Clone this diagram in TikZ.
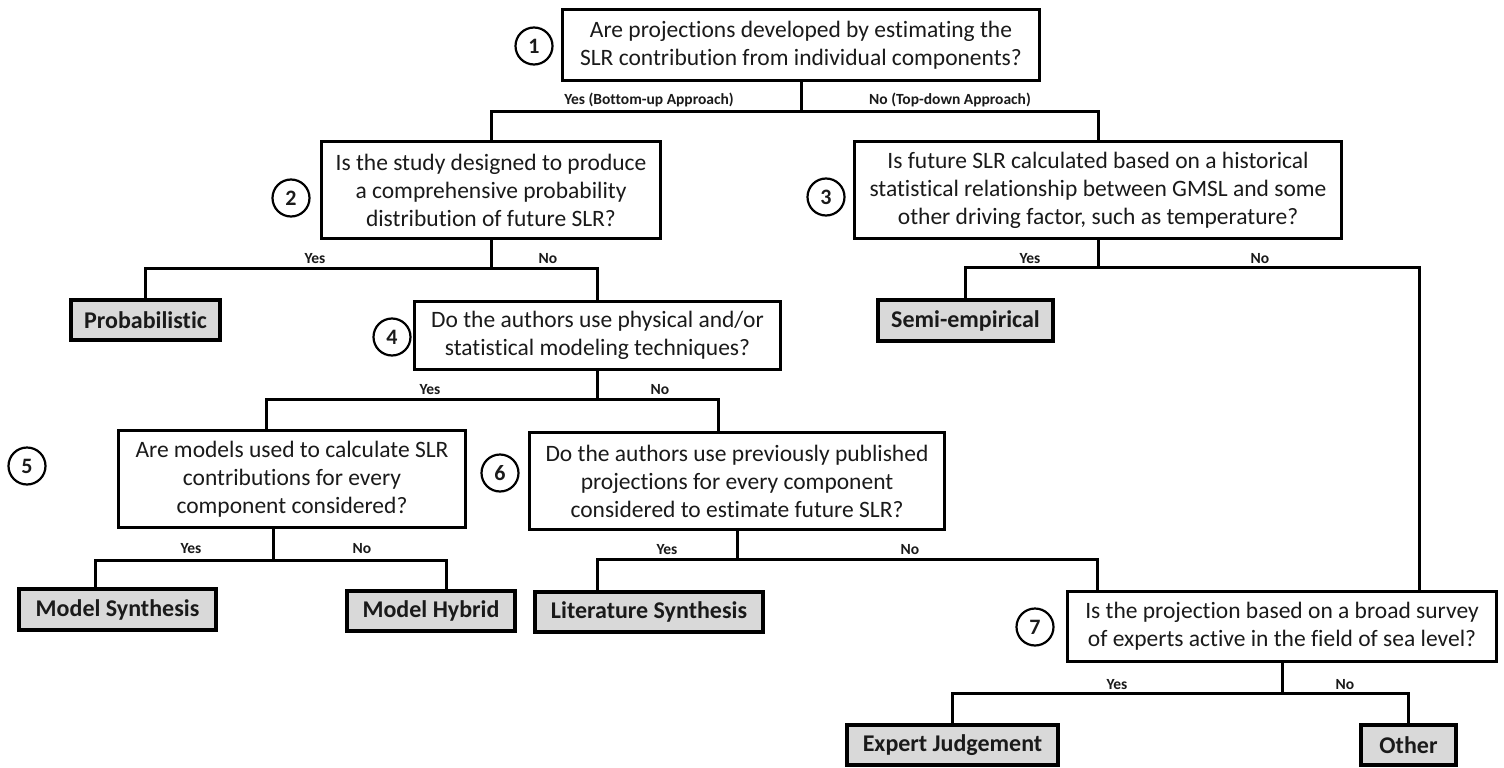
\documentclass[tikz,border=0pt]{standalone}
\usepackage{fontspec}
\setmainfont{Carlito}[Ligatures=NoCommon]
\definecolor{termgrey}{HTML}{D9D9D9}
\definecolor{ink}{HTML}{1A1A1A}
\begin{document}
\begin{tikzpicture}[x=1pt,y=-1pt,
  qbox/.style={draw=black, line width=2.8pt, fill=white, align=center, inner sep=0pt,
    text=ink, font=\fontsize{23.5}{28}\selectfont},
  term/.style={draw=black, line width=3.6pt, fill=termgrey, inner sep=0pt,
    text=ink, font=\bfseries\fontsize{24}{28}\selectfont},
  num/.style={circle, draw=black, line width=2.2pt, minimum size=37pt, inner sep=0pt,
    text=ink, font=\bfseries\fontsize{22}{22}\selectfont},
  conn/.style={draw=black, line width=3pt},
  lab/.style={inner sep=0pt, text=ink, font=\bfseries\fontsize{15.5}{15.5}\selectfont}]
\useasboundingbox (0,0) rectangle (1504,768);
\fill[white] (0,0) rectangle (1504,768);

% question boxes
\node[qbox, minimum width=477pt, minimum height=71pt] (b1) at (801,45)
  {Are projections developed by estimating the\\SLR contribution from individual components?};
\node[qbox, minimum width=339pt, minimum height=97pt] (b2) at (491,190)
  {Is the study designed to produce\\a comprehensive probability\\distribution of future SLR?};
\node[qbox, minimum width=487pt, minimum height=97pt] (b3) at (1098,190)
  {Is future SLR calculated based on a historical\\statistical relationship between GMSL and some\\other driving factor, such as temperature?};
\node[qbox, minimum width=366pt, minimum height=68pt] (b4) at (597.5,335.5)
  {Do the authors use physical and/or\\statistical modeling techniques?};
\node[qbox, minimum width=347pt, minimum height=97pt] (b5) at (292,479)
  {Are models used to calculate SLR\\contributions for every\\component considered?};
\node[qbox, minimum width=415pt, minimum height=97pt] (b6) at (737,481)
  {Do the authors use previously published\\projections for every component\\considered to estimate future SLR?};
\node[qbox, minimum width=429pt, minimum height=70pt] (b7) at (1282,626.5)
  {Is the projection based on a broad survey\\of experts active in the field of sea level?};

% terminal boxes
\node[term, minimum width=149pt, minimum height=40pt] (pr) at (145.5,320) {Probabilistic};
\node[term, minimum width=175pt, minimum height=41pt] (se) at (965.5,320.5) {Semi-empirical};
\node[term, minimum width=197pt, minimum height=41pt] (ms) at (117.5,609.5) {Model Synthesis};
\node[term, minimum width=168pt, minimum height=40pt] (mh) at (431,611) {Model Hybrid};
\node[term, minimum width=228pt, minimum height=40pt] (ls) at (649,612) {Literature Synthesis};
\node[term, minimum width=211pt, minimum height=40pt] (ej) at (952.5,745) {Expert Judgement};
\node[term, minimum width=95pt, minimum height=40pt] (ot) at (1408.5,745) {Other};

% number circles
\node[num] (c1) at (534,46) {1};
\node[num] (c2) at (291,198) {2};
\node[num] (c3) at (826,197) {3};
\node[num] (c4) at (392,337) {4};
\node[num] (c5) at (27,466) {5};
\node[num] (c6) at (500,473) {6};
\node[num] (c7) at (1035,627) {7};

% junctions
\coordinate (j1) at (801,111);
\coordinate (j2) at (491,268);
\coordinate (j3) at (1098,267);
\coordinate (j4) at (597.5,399);
\coordinate (j5) at (273,560);
\coordinate (j6) at (737,559);
\coordinate (j7) at (1282,693);

% connectors
\draw[conn] (b1.south) -- (j1);
\draw[conn] (b2.north) |- (j1) -| (b3.north);
\draw[conn] (b2.south) -- (j2);
\draw[conn] (pr.north) |- (j2) -| (b4.north);
\draw[conn] (b3.south) -- (j3);
\draw[conn] (se.north) |- (j3) -| ([xshift=137pt]b7.north);
\draw[conn] (b4.south) -- (j4);
\draw[conn] ([xshift=-26pt]b5.north) |- (j4) -| ([xshift=-19pt]b6.north);
\draw[conn] ([xshift=-19pt]b5.south) -- (j5);
\draw[conn] ([xshift=-22.5pt]ms.north) |- (j5) -| ([xshift=15pt]mh.north);
\draw[conn] (b6.south) -- (j6);
\draw[conn] ([xshift=-52pt]ls.north) |- (j6) -| ([xshift=-185pt]b7.north);
\draw[conn] (b7.south) -- (j7);
\draw[conn] (ej.north) |- (j7) -| (ot.north);

% branch labels
\node[lab] (l1y) at (649,100) {Yes (Bottom-up Approach)};
\node[lab] (l1n) at (950,100) {No (Top-down Approach)};
\node[lab] (l2y) at (315,259) {Yes};
\node[lab] (l2n) at (548,259) {No};
\node[lab] (l3y) at (1030,259) {Yes};
\node[lab] (l3n) at (1260,259) {No};
\node[lab] (l4y) at (430,390) {Yes};
\node[lab] (l4n) at (660,390) {No};
\node[lab] (l5y) at (191,549) {Yes};
\node[lab] (l5n) at (362,549) {No};
\node[lab] (l6y) at (667,550) {Yes};
\node[lab] (l6n) at (910,550) {No};
\node[lab] (l7y) at (1117,685) {Yes};
\node[lab] (l7n) at (1345,685) {No};
\end{tikzpicture}
\end{document}
